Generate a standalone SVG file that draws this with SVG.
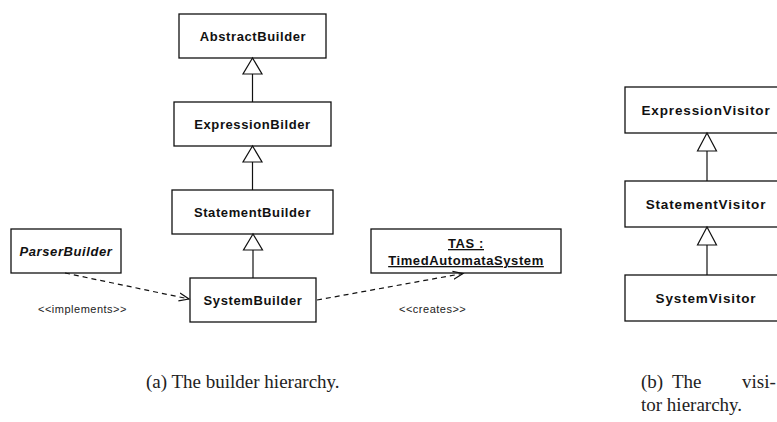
<svg xmlns="http://www.w3.org/2000/svg" width="777" height="422" viewBox="0 0 777 422">
  <style>
    .box { fill: #ffffff; stroke: #111111; stroke-width: 1.3; }
    .lbl { font-family: "Liberation Sans", Arial, sans-serif; font-weight: bold; font-size: 13px; letter-spacing: 0.6px; fill: #111111; text-anchor: middle; }
    .vlbl { font-family: "Liberation Sans", Arial, sans-serif; font-weight: bold; font-size: 13.5px; letter-spacing: 0.85px; fill: #111111; text-anchor: middle; }
    .ital { font-style: italic; }
    .stereo { font-family: "Liberation Sans", Arial, sans-serif; font-size: 11px; letter-spacing: 0.5px; fill: #222222; }
    .gen { fill: none; stroke: #111111; stroke-width: 1.2; }
    .tri { fill: #ffffff; stroke: #111111; stroke-width: 1.2; }
    .dep { fill: none; stroke: #111111; stroke-width: 1.2; stroke-dasharray: 5 4; }
    .cap { font-family: "Liberation Serif", "Times New Roman", serif; font-size: 19px; fill: #222222; }
  </style>
  <defs>
    <marker id="open" markerWidth="12" markerHeight="12" refX="10" refY="5" orient="auto" markerUnits="userSpaceOnUse">
      <path d="M0,1 L10,5 L0,9" fill="none" stroke="#111111" stroke-width="1.2"/>
    </marker>
  </defs>
  <rect width="777" height="422" fill="#ffffff"/>

  <!-- builder hierarchy -->
  <g id="AbstractBuilder">
    <rect class="box" x="179" y="14" width="147" height="44"/>
    <text class="lbl" x="253" y="41">AbstractBuilder</text>
  </g>
  <g id="ExpressionBilder">
    <rect class="box" x="174" y="102" width="157" height="44"/>
    <text class="lbl" x="252.5" y="129">ExpressionBilder</text>
  </g>
  <g id="StatementBuilder">
    <rect class="box" x="172" y="190" width="161" height="44"/>
    <text class="lbl" x="252.5" y="217">StatementBuilder</text>
  </g>
  <g id="SystemBuilder">
    <rect class="box" x="190" y="278" width="126" height="44"/>
    <text class="lbl" x="253" y="305">SystemBuilder</text>
  </g>
  <g id="ParserBuilder">
    <rect class="box" x="11" y="229" width="110" height="44"/>
    <text class="lbl ital" x="66" y="256">ParserBuilder</text>
  </g>
  <g id="TAS">
    <rect class="box" x="371" y="229" width="190" height="44"/>
    <text class="lbl" x="466" y="248" text-decoration="underline">TAS :</text>
    <text class="lbl" x="466" y="265" text-decoration="underline">TimedAutomataSystem</text>
  </g>

  <!-- visitor hierarchy -->
  <g id="ExpressionVisitor">
    <rect class="box" x="625" y="87" width="164" height="46"/>
    <text class="vlbl" x="706" y="115">ExpressionVisitor</text>
  </g>
  <g id="StatementVisitor">
    <rect class="box" x="625" y="181" width="164" height="46"/>
    <text class="vlbl" x="706" y="209">StatementVisitor</text>
  </g>
  <g id="SystemVisitor">
    <rect class="box" x="625" y="275" width="164" height="46"/>
    <text class="vlbl" x="706" y="303">SystemVisitor</text>
  </g>

  <g id="connectors">
    <!-- generalisations (hollow triangle at the parent) -->
    <line class="gen" x1="252.5" y1="74" x2="252.5" y2="102"/>
    <polygon class="tri" points="252.5,58 243,74 262,74"/>
    <line class="gen" x1="252.5" y1="162" x2="252.5" y2="190"/>
    <polygon class="tri" points="252.5,146 243,162 262,162"/>
    <line class="gen" x1="253" y1="250" x2="253" y2="278"/>
    <polygon class="tri" points="253,234 243.5,250 262.5,250"/>

    <line class="gen" x1="707" y1="151" x2="707" y2="181"/>
    <polygon class="tri" points="707,133 697.5,151 716.5,151"/>
    <line class="gen" x1="707" y1="245" x2="707" y2="275"/>
    <polygon class="tri" points="707,227 697.5,245 716.5,245"/>

    <!-- dependencies -->
    <line class="dep" x1="65" y1="273" x2="189" y2="299" marker-end="url(#open)"/>
    <line class="dep" x1="317" y1="300" x2="463" y2="273.5" marker-end="url(#open)"/>
    <text class="stereo" x="38" y="313">&lt;&lt;implements&gt;&gt;</text>
    <text class="stereo" x="399" y="313">&lt;&lt;creates&gt;&gt;</text>
  </g>

  <!-- captions -->
  <text class="cap" x="146" y="388">(a) The builder hierarchy.</text>
  <text class="cap" x="641" y="388">(b)</text>
  <text class="cap" x="672" y="388">The</text>
  <text class="cap" x="742" y="388">visi-</text>
  <text class="cap" x="641" y="411">tor hierarchy.</text>
</svg>
